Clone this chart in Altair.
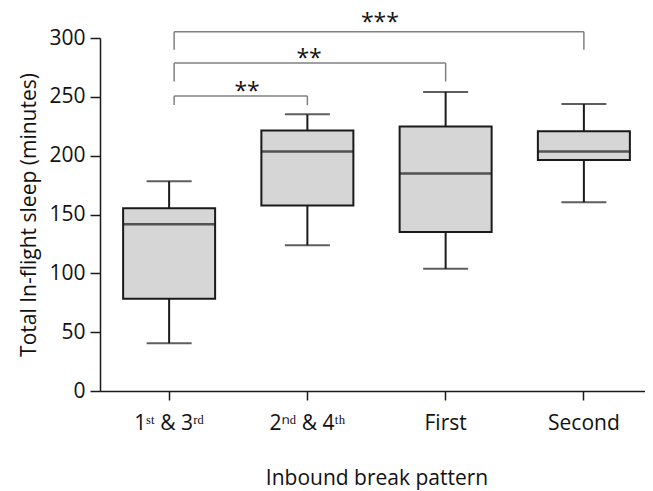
import altair as alt
import pandas as pd

categories = ["1ˢᵗ & 3ʳᵈ", "2ⁿᵈ & 4ᵗʰ", "First", "Second"]
whisker_low = [40.6, 123.9, 103.8, 160.4]
q1 = [78.5, 157.6, 135.2, 196.4]
median = [141.8, 203.5, 184.8, 203.5]
q3 = [155.3, 221.3, 224.7, 220.8]
whisker_high = [178.3, 235.1, 254.2, 244.0]

bracket_from = [categories[0], categories[0], categories[0]]
bracket_to = [categories[1], categories[2], categories[3]]
bracket_level = [250.8, 278.8, 305.4]
bracket_drop = [243.0, 263.0, 290.0]
bracket_label = ["**", "**", "***"]
label_y = [254.0, 282.0, 313.0]

FONT = "Open Sans"

box_df = pd.DataFrame({
    "cat": categories, "lo": whisker_low, "q1": q1, "med": median,
    "q3": q3, "hi": whisker_high,
})
br_df = pd.DataFrame({
    "a": bracket_from, "b": bracket_to, "level": bracket_level,
    "drop": bracket_drop, "label": bracket_label, "ly": label_y,
})

xscale = alt.Scale(domain=categories, range=[0, 553], paddingInner=0, paddingOuter=0)
yscale = alt.Scale(domain=[0, 300])

x_enc = alt.X("cat:N", scale=xscale, sort=categories,
              axis=alt.Axis(title="Inbound break pattern", labelAngle=0,
                            labelBaseline="alphabetic", labelPadding=29,
                            tickSize=9, titleX=276.5, titleY=93,
                            titleBaseline="alphabetic"))
y_enc = alt.Y("lo:Q", scale=yscale,
              axis=alt.Axis(title="Total In-flight sleep (minutes)",
                            values=[0, 50, 100, 150, 200, 250, 300],
                            tickSize=10, labelPadding=5,
                            titleX=-65, titleY=176.5, titleBaseline="alphabetic"))

base = alt.Chart(box_df)
xc = alt.X("cat:N", scale=xscale, sort=categories)

whisker = base.mark_rule(color="#1a1a1a", strokeWidth=2).encode(
    x=x_enc, y=y_enc, y2="hi:Q")
box = base.mark_bar(size=92, fill="#d6d6d6", stroke="#1a1a1a", strokeWidth=2).encode(
    x=xc, y="q1:Q", y2="q3:Q")
med = base.mark_tick(size=92, thickness=2.5, color="#1a1a1a").encode(
    x=xc, y="med:Q")
cap_lo = base.mark_tick(size=45, thickness=2, color="#1a1a1a").encode(
    x=xc, y="lo:Q")
cap_hi = base.mark_tick(size=45, thickness=2, color="#1a1a1a").encode(
    x=xc, y="hi:Q")

bb = alt.Chart(br_df)
GRAY = "#808080"
xa = alt.X("a:N", scale=xscale, sort=categories)
xb = alt.X("b:N", scale=xscale, sort=categories)
hline = bb.mark_rule(color=GRAY, strokeWidth=1.5, xOffset=5, x2Offset=0).encode(
    x=xa, x2="b:N", y="level:Q")
vleft = bb.mark_rule(color=GRAY, strokeWidth=1.5, xOffset=5).encode(
    x=xa, y="level:Q", y2="drop:Q")
vright = bb.mark_rule(color=GRAY, strokeWidth=1.5).encode(
    x=xb, y="level:Q", y2="drop:Q")

def stars(i, anchor, dx):
    return bb.transform_filter(alt.datum.level == bracket_level[i]).mark_text(
        font=FONT, fontSize=23, color="#111", dx=dx, baseline="middle").encode(
        x=anchor, y="ly:Q", text="label:N")

t0 = stars(0, xa, 78)
t1 = stars(1, xa, 140)
t2 = stars(2, xb, -204)

chart = alt.layer(whisker, box, med, cap_lo, cap_hi, hline, vleft, vright, t0, t1, t2).properties(
    width=545, height=353,
    padding={"left": 92, "top": 30, "right": 0, "bottom": 100},
    autosize=alt.AutoSizeParams(type="none"),
).configure_view(stroke=None).configure_axis(
    domainColor="#1a1a1a", domainWidth=1.5, tickColor="#1a1a1a", tickWidth=1.5,
    labelFont=FONT, titleFont=FONT, labelFontSize=21, titleFontSize=21,
    labelColor="#111", titleColor="#111", titleFontWeight="normal", grid=False,
)

chart.save("out.html", embed_options={"renderer": "svg", "actions": False})
